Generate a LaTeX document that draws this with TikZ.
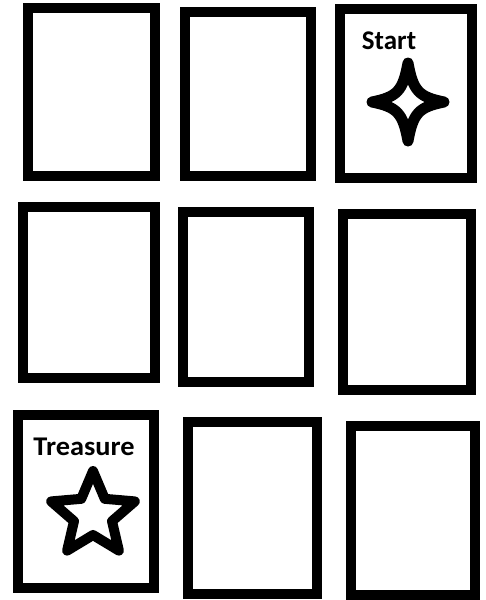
\documentclass[tikz,border=0pt]{standalone}
\usepackage{fontspec}
\setmainfont{Carlito}
\tikzset{
  card/.style={draw=black, line width=10pt, fill=white, inner sep=0pt, outer sep=0pt},
  label/.style={inner sep=0pt, font=\bfseries\fontsize{27}{30}\selectfont, anchor=base},
  icon/.style={draw=black, line width=10pt, line join=round, fill=white}
}
\begin{document}
\begin{tikzpicture}[x=1pt,y=-1pt]
\useasboundingbox[fill=white] (0,0) rectangle (485,600);
% cards
\node[card, minimum width=127pt, minimum height=168pt] (c1) at (91.5,92) {};
\node[card, minimum width=126pt, minimum height=164pt] (c2) at (248,94) {};
\node[card, minimum width=132pt, minimum height=169pt] (c3) at (406,93.5) {};
\node[card, minimum width=132pt, minimum height=171pt] (c4) at (89,292.5) {};
\node[card, minimum width=126pt, minimum height=170pt] (c5) at (246,297) {};
\node[card, minimum width=128pt, minimum height=176pt] (c6) at (407,302) {};
\node[card, minimum width=136pt, minimum height=173pt] (c7) at (86,501.5) {};
\node[card, minimum width=129pt, minimum height=172pt] (c8) at (252.5,508) {};
\node[card, minimum width=124pt, minimum height=169pt] (c9) at (413,510.5) {};
% labels
\node[label] (start) at (389,49) {Start};
\node[label, xscale=1.05] (treasure) at (84,455) {Treasure};
% start sparkle
\coordinate (sc) at (408,102);
\draw[icon, line width=11pt, shift={(sc)}] (0,-39) .. controls (5,-11) and (11,-5) .. (36,0)
  .. controls (11,5) and (5,11) .. (0,39)
  .. controls (-5,11) and (-11,5) .. (-36,0)
  .. controls (-11,-5) and (-5,-11) .. cycle;
% treasure star
\coordinate (tc) at (93,515);
\draw[icon, shift={(tc)}] (-90:44) -- (-54:20) -- (-18:44) -- (18:20) -- (54:44) -- (90:20)
  -- (126:44) -- (162:20) -- (198:44) -- (234:20) -- cycle;
\end{tikzpicture}
\end{document}
